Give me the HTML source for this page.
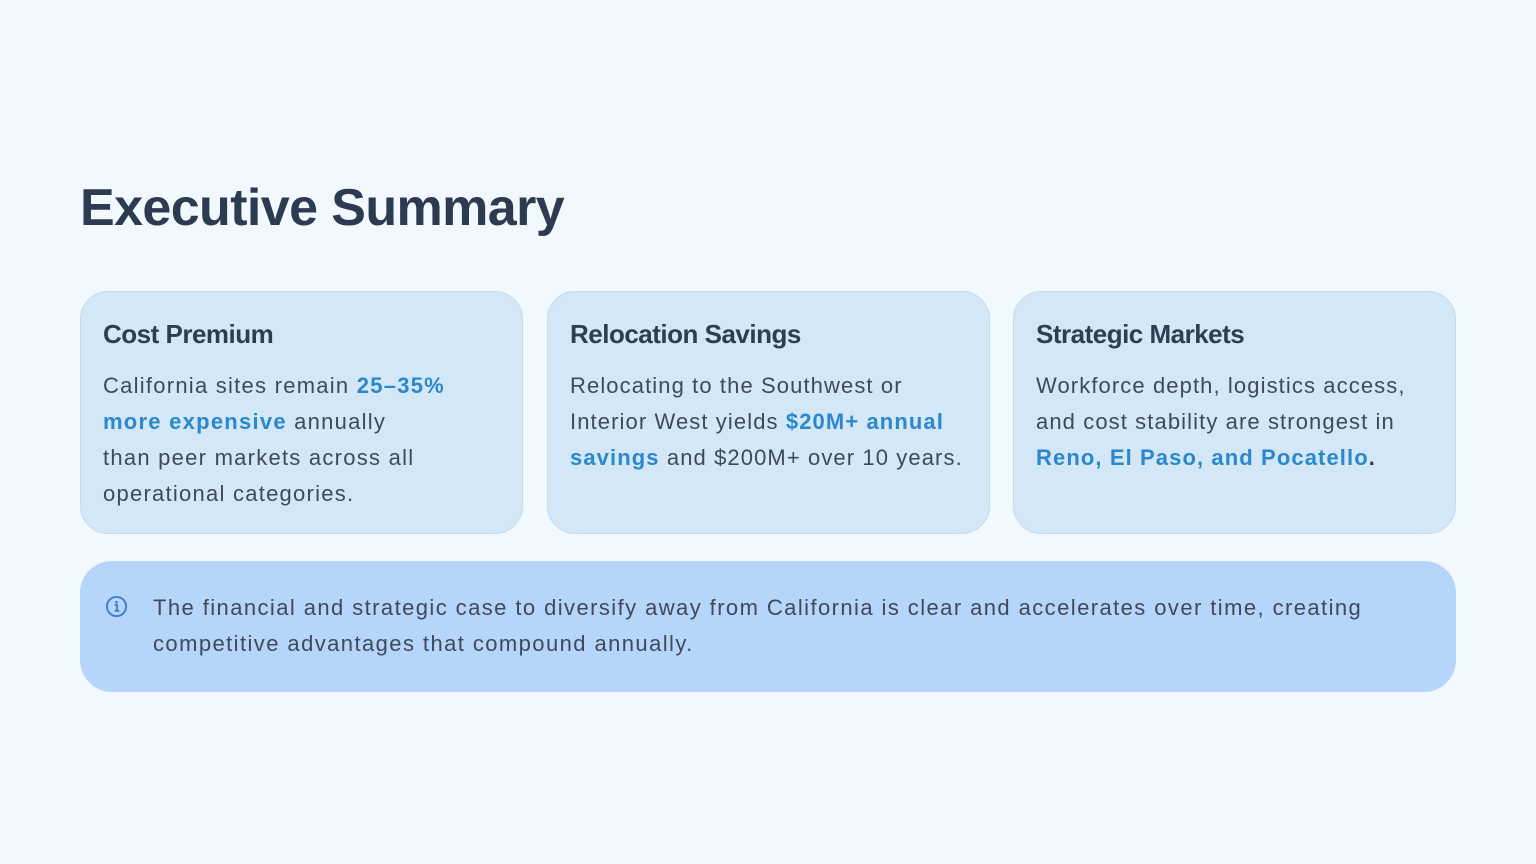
<!DOCTYPE html>
<html><head><meta charset="utf-8"><style>
*{margin:0;padding:0;box-sizing:border-box}
body{width:1536px;height:864px;background:#f2f9fe;font-family:"Liberation Sans",sans-serif;color:#3e4a5a;position:relative;overflow:hidden}
h1{position:absolute;left:80px;top:178px;font-size:52px;font-weight:bold;color:#2d3b50;letter-spacing:-0.6px}
.card{position:absolute;top:291px;width:443px;height:243px;background:#d3e7f7;border:1px solid #c4dcef;border-radius:28px;padding:26px 22px}
.card h2{font-size:26px;font-weight:bold;color:#2f3d50;line-height:32px;letter-spacing:-0.5px}
.card p{margin-top:18px;font-size:22px;line-height:36px;letter-spacing:1.1px;white-space:nowrap}
.card p.f{letter-spacing:1.25px}
b{color:#2a88cc}
.banner{position:absolute;left:80px;top:561px;width:1376px;height:131px;background:#b5d5fb;border-radius:32px}
.banner p{position:absolute;left:73px;top:29px;font-size:22px;line-height:36px;letter-spacing:1.42px;white-space:nowrap}
.icon{position:absolute;left:25px;top:34px}
</style></head><body>
<h1>Executive Summary</h1>
<div class="card" style="left:80px"><h2>Cost Premium</h2><p class="f">California sites remain <b>25–35%</b><br><b>more expensive</b> annually<br>than peer markets across all<br>operational categories.</p></div>
<div class="card" style="left:547px"><h2>Relocation Savings</h2><p>Relocating to the Southwest or<br>Interior West yields <b>$20M+ annual</b><br><b>savings</b> and $200M+ over 10 years.</p></div>
<div class="card" style="left:1013px"><h2>Strategic Markets</h2><p>Workforce depth, logistics access,<br>and cost stability are strongest in<br><b>Reno, El Paso, and Pocatello</b><span style="font-weight:bold;color:#2f3d50">.</span></p></div>
<div class="banner">
<svg class="icon" width="23" height="23" viewBox="0 0 24 24"><circle cx="12" cy="12" r="10" fill="none" stroke="#3f7fc8" stroke-width="2"/><circle cx="12" cy="7.5" r="1.4" fill="#3f7fc8"/><path d="M10 10.5h2.5v6M10 16.5h5" stroke="#3f7fc8" stroke-width="2" fill="none"/></svg>
<p>The financial and strategic case to diversify away from California is clear and accelerates over time, creating<br>competitive advantages that compound annually.</p>
</div>
</body></html>
